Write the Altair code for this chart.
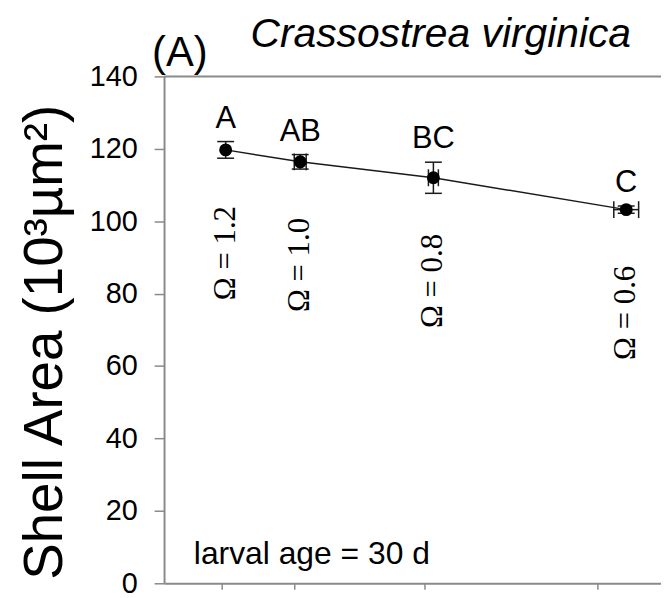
import altair as alt
import pandas as pd

# ---- data ----
groups = ["A", "AB", "BC", "C"]
omega_labels = ["Ω = 1.2", "Ω = 1.0", "Ω = 0.8", "Ω = 0.6"]
pco2 = [620, 1370, 2710, 4650]          # x position (unlabelled axis)
pco2_err = [0, 60, 50, 125]
shell_area = [119.7, 116.4, 112.0, 103.2]
shell_err = [2.3, 2.0, 4.3, 1.0]
x_tick_values = [580, 1310, 2620, 4360]
y_tick_values = [0, 20, 40, 60, 80, 100, 120, 140]

df = pd.DataFrame({
    "group": groups,
    "omega": omega_labels,
    "x": pco2,
    "xerr": pco2_err,
    "y": shell_area,
    "yerr": shell_err,
})
df["ylo"] = df["y"] - df["yerr"]
df["yhi"] = df["y"] + df["yerr"]
df["xlo"] = df["x"] - df["xerr"]
df["xhi"] = df["x"] + df["xerr"]

GRAY = "#8a8a8a"
INK = "#1a1a1a"
SANS = "Liberation Sans"
SERIF = "Liberation Serif"

xscale = alt.Scale(domain=[0, 5000], nice=False, zero=False)
yscale = alt.Scale(domain=[0, 140], nice=False)

x_enc = alt.X("x:Q", scale=xscale,
              axis=alt.Axis(values=x_tick_values, labels=False, title=None,
                            grid=False, domainColor=GRAY, domainWidth=2,
                            tickColor=GRAY, tickWidth=1.5, tickSize=6))
y_enc = alt.Y("y:Q", scale=yscale,
              axis=alt.Axis(values=y_tick_values, grid=False,
                            title="Shell Area (10³µm²)",
                            titleFont=SANS, titleFontSize=55,
                            titleFontWeight="normal", titleColor="black",
                            titlePadding=16, titleY=267,
                            labelFont=SANS, labelFontSize=29,
                            labelColor="black", labelPadding=17,
                            domainColor=GRAY, domainWidth=2,
                            tickColor=GRAY, tickWidth=1.5, tickSize=10))

base = alt.Chart(df)

top_border = alt.Chart(pd.DataFrame({"top": [y_tick_values[-1]]})).mark_rule(
    color=GRAY, strokeWidth=2).encode(y=alt.Y("top:Q", scale=yscale))

line = base.mark_line(color=INK, strokeWidth=1.5).encode(x=x_enc, y=y_enc)

v_whisk = base.mark_rule(color=INK, strokeWidth=1.5).encode(
    x="x:Q", y="ylo:Q", y2="yhi:Q")
v_caps = base.transform_fold(["ylo", "yhi"], as_=["end", "val"]).mark_tick(
    orient="horizontal", size=17, thickness=1.5, color=INK, opacity=1).encode(
    x="x:Q", y="val:Q")

dfx = df[df["xerr"] > 0]
h_whisk = alt.Chart(dfx).mark_rule(color=INK, strokeWidth=1.5).encode(
    x="xlo:Q", x2="xhi:Q", y="y:Q")
h_caps = alt.Chart(dfx).transform_fold(["xlo", "xhi"], as_=["end", "val"]).mark_tick(
    orient="vertical", size=17, thickness=1.5, color=INK, opacity=1).encode(
    x="val:Q", y="y:Q")

points = base.mark_circle(size=170, color="black", opacity=1).encode(
    x="x:Q", y="y:Q")

letters = base.mark_text(font=SANS, fontSize=31, baseline="bottom", dy=-7,
                         color="black").encode(
    x="x:Q", y="yhi:Q", text="group:N")

omegas = base.transform_calculate(lab_y="datum.y - 28.5").mark_text(
    font=SERIF, fontSize=31, angle=270, align="center", baseline="middle",
    color="black").encode(x="x:Q", y="lab_y:Q", text="omega:N")

age = alt.Chart(pd.DataFrame({"t": ["larval age = 30 d"]})).mark_text(
    font=SANS, fontSize=32, align="left", baseline="alphabetic",
    color="black").encode(x=alt.value(30), y=alt.value(491), text="t:N")

panel = alt.Chart(pd.DataFrame({"t": ["(A)"]})).mark_text(
    font=SANS, fontSize=42, align="left", baseline="alphabetic",
    color="black").encode(x=alt.value(-12), y=alt.value(-10), text="t:N")

species = alt.Chart(pd.DataFrame({"t": ["Crassostrea virginica"]})).mark_text(
    font=SANS, fontSize=41, fontStyle="italic", align="left",
    baseline="alphabetic", color="black").encode(
    x=alt.value(87), y=alt.value(-30), text="t:N")

chart = alt.layer(
    top_border, line, v_whisk, v_caps, h_whisk, h_caps, points,
    letters, omegas, age, panel, species
).properties(
    width=500, height=510,
    autosize="none",
    padding={"left": 157, "top": 67, "right": 0, "bottom": 13},
    background="white",
).configure_view(stroke=None)

chart.save("out.html", embed_options={"renderer": "svg", "actions": False})
